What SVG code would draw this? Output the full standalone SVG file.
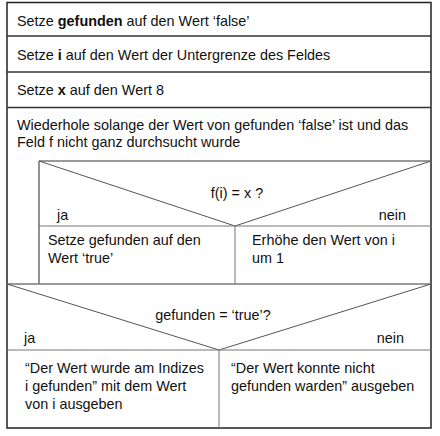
<svg xmlns="http://www.w3.org/2000/svg" width="440" height="436" viewBox="0 0 440 436">
<style>
text{font-family:"Liberation Sans",Arial,sans-serif;font-size:14.4px;fill:#111}
.b{font-weight:bold}
.outer{fill:#fff;stroke:#222;stroke-width:1.5}
.sep{stroke:#333;stroke-width:1.3;fill:none}
.inner{stroke:#777;stroke-width:1.6;fill:none}
.diag{stroke:#555;stroke-width:1;fill:none}
.div{stroke:#777;stroke-width:1;fill:none}
</style>
<rect width="440" height="436" fill="#fff"/>
<g id="frame">
<rect class="outer" x="7" y="2.5" width="424" height="425.5"/>
</g>
<g id="connectors">
<line class="sep" x1="7" y1="36" x2="431" y2="36"/>
<line class="sep" x1="7" y1="72" x2="431" y2="72"/>
<line class="sep" x1="7" y1="107.5" x2="431" y2="107.5"/>
<line class="inner" x1="39" y1="161" x2="431" y2="161"/>
<line class="inner" x1="39" y1="161" x2="39" y2="284"/>
<line class="inner" x1="7" y1="284" x2="431" y2="284"/>
<polyline class="diag" points="39,161 235,226 431,161"/>
<line class="div" x1="39" y1="226" x2="431" y2="226"/>
<line class="div" x1="235" y1="226" x2="235" y2="284"/>
<polyline class="diag" points="7,284 219,350 431,284"/>
<line class="div" x1="7" y1="350" x2="431" y2="350"/>
<line class="div" x1="219" y1="350" x2="219" y2="428"/>
</g>
<g id="step1"><text x="17" y="26">Setze <tspan class="b">gefunden</tspan> auf den Wert ‘false’</text></g>
<g id="step2"><text x="17" y="60">Setze <tspan class="b">i</tspan> auf den Wert der Untergrenze des Feldes</text></g>
<g id="step3"><text x="17" y="95">Setze <tspan class="b">x</tspan> auf den Wert 8</text></g>
<g id="loop">
<text x="17" y="130">Wiederhole solange der Wert von gefunden ‘false’ ist und das</text>
<text x="17" y="147">Feld f nicht ganz durchsucht wurde</text>
</g>
<g id="decision1">
<text x="237" y="198" text-anchor="middle">f(i) = x ?</text>
<text x="57" y="220">ja</text>
<text x="406" y="220" text-anchor="end">nein</text>
</g>
<g id="yes1">
<text x="48" y="245">Setze gefunden auf den</text>
<text x="48" y="263">Wert ‘true’</text>
</g>
<g id="no1">
<text x="252" y="245">Erhöhe den Wert von i</text>
<text x="252" y="263">um 1</text>
</g>
<g id="decision2">
<text x="213" y="320" text-anchor="middle">gefunden = ‘true’?</text>
<text x="24" y="343">ja</text>
<text x="404" y="343" text-anchor="end">nein</text>
</g>
<g id="yes2">
<text x="25" y="373">“Der Wert wurde am Indizes</text>
<text x="25" y="391">i gefunden” mit dem Wert</text>
<text x="25" y="409">von i ausgeben</text>
</g>
<g id="no2">
<text x="231" y="373">“Der Wert konnte nicht</text>
<text x="231" y="391">gefunden warden” ausgeben</text>
</g>
</svg>
